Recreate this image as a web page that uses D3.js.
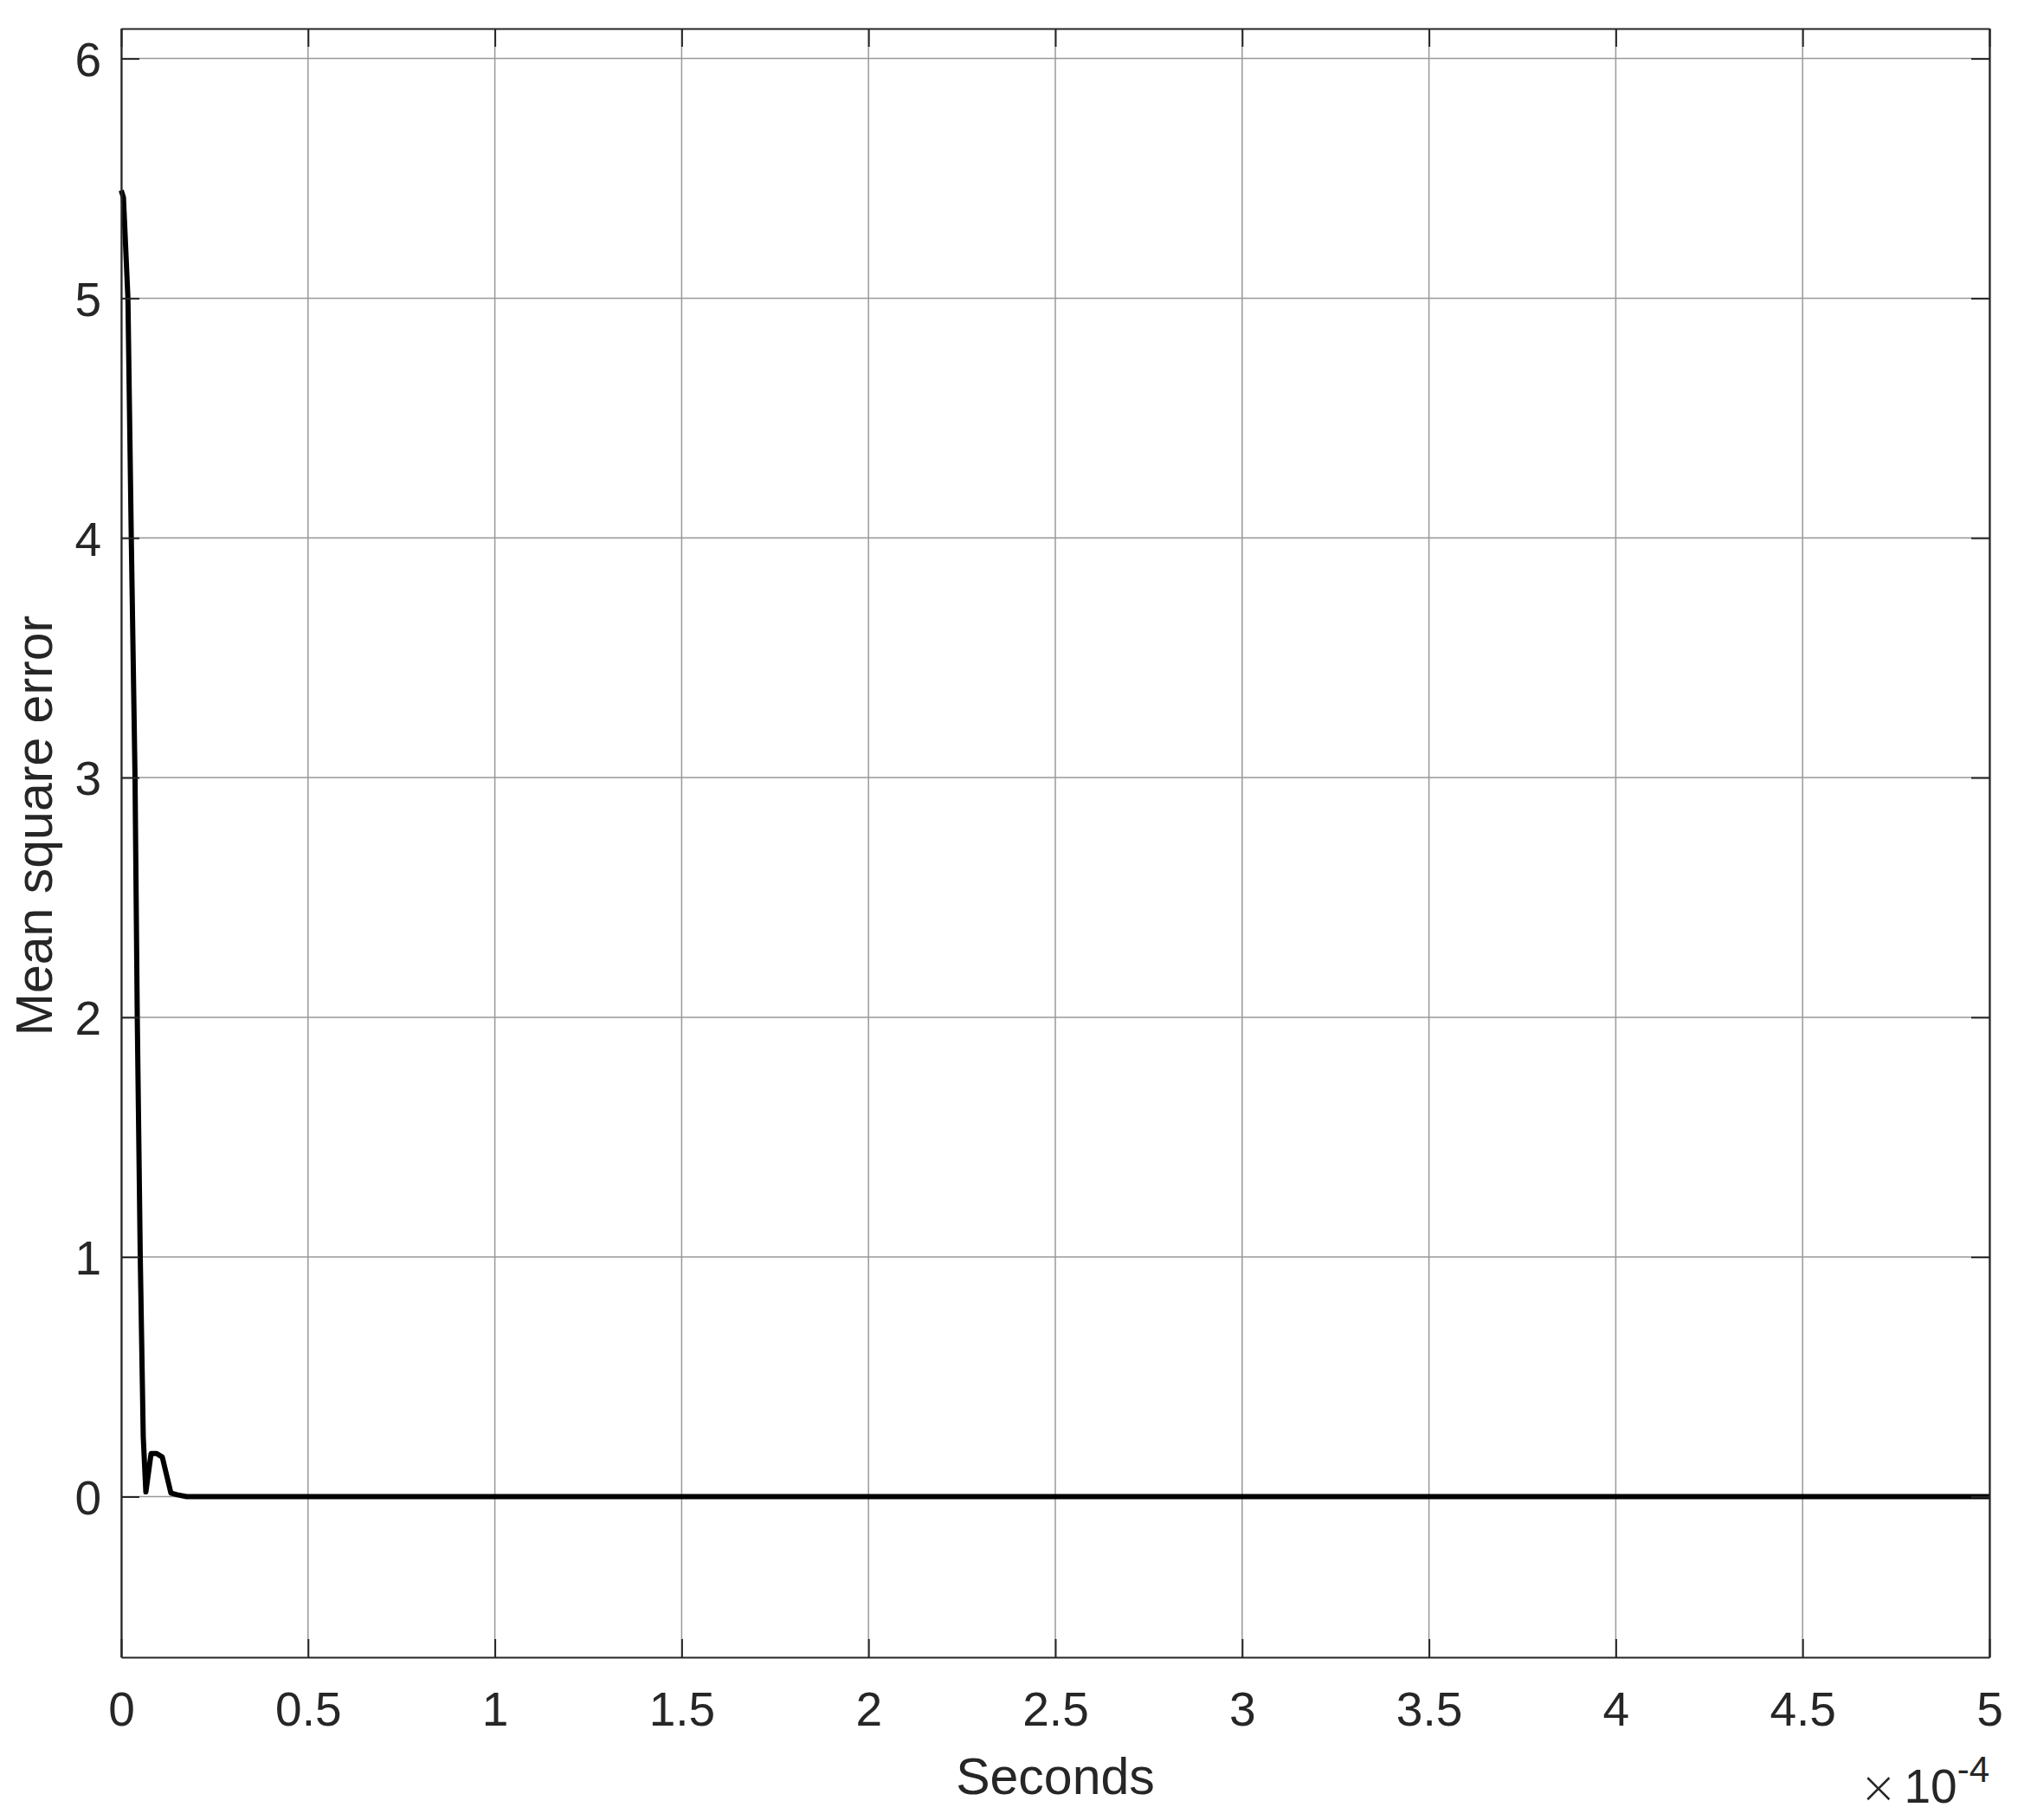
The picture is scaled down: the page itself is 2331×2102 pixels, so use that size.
<!DOCTYPE html>
<html>
<head>
<meta charset="utf-8">
<script src="https://cdn.jsdelivr.net/npm/d3@7"></script>
<style>
  body { margin: 0; background: #fff; }
  svg text { font-family: "Liberation Sans", Arial, sans-serif; fill: #262626; }
</style>
</head>
<body>
<svg id="chart" width="2331" height="2102"></svg>
<script>
// time in microseconds
const timeMicro = [0, 0.6, 1.8, 2.7, 3.7, 4.3, 5.1, 5.9, 6.6, 8.0, 9.5, 11.0, 13.3, 15.0, 17.5, 500];
// mean square error at those times
const mseValues = [5.45, 5.42, 5.0, 4.0, 3.0, 2.0, 1.0, 0.25, 0.02, 0.18, 0.18, 0.165, 0.015, 0.008, 0, 0];

const xTicks = [0, 0.5, 1, 1.5, 2, 2.5, 3, 3.5, 4, 4.5, 5]; // in units of 1e-4 s
const yTicks = [0, 1, 2, 3, 4, 5, 6];

//Layout of the axes
const chart = {};
chart.width = 2331;
chart.height = 2102;
chart.margin = { left: 140, right: 33, top: 33, bottom: 188 };
chart.innerW = chart.width - chart.margin.left - chart.margin.right;
chart.innerH = chart.height - chart.margin.top - chart.margin.bottom;
chart.tick = 21;

const svg = d3.select("#chart");
const g = svg.append("g")
  .attr("transform", "translate(" + chart.margin.left + "," + chart.margin.top + ")");

//Scales
const x = d3.scaleLinear().domain([0, 5]).range([0, chart.innerW]);
const y = d3.scaleLinear().domain([-0.67, 6.125]).range([chart.innerH, 0]);

//Grid lines
g.append("g")
  .selectAll("line")
  .data(xTicks)
  .join("line")
  .attr("x1", (d) => x(d)).attr("x2", (d) => x(d))
  .attr("y1", 0).attr("y2", chart.innerH)
  .attr("stroke", "#999").attr("stroke-width", 1.5);

g.append("g")
  .selectAll("line")
  .data(yTicks)
  .join("line")
  .attr("x1", 0).attr("x2", chart.innerW)
  .attr("y1", (d) => y(d)).attr("y2", (d) => y(d))
  .attr("stroke", "#999").attr("stroke-width", 1.5);

//Data line
const data = timeMicro.map((t, i) => ({ t: t / 100, v: mseValues[i] }));
g.append("path")
  .datum(data)
  .attr("fill", "none")
  .attr("stroke", "#000")
  .attr("stroke-width", 6)
  .attr("stroke-linejoin", "round")
  .attr("d", d3.line().x((d) => x(d.t)).y((d) => y(d.v)));

//Axes with inward ticks on all four sides
const fmt = (d) => d3.format("~g")(d);
const styleAxis = (sel) => {
  sel.select(".domain").attr("stroke", "#262626").attr("stroke-width", 2.2);
  sel.selectAll(".tick line").attr("stroke", "#262626").attr("stroke-width", 2);
};

g.append("g")
  .attr("transform", "translate(0," + chart.innerH + ")")
  .call(d3.axisBottom(x).tickValues(xTicks).tickFormat(fmt).tickSize(-chart.tick).tickSizeOuter(0).tickPadding(0))
  .call(styleAxis)
  .call((a) => a.selectAll(".tick text")
    .attr("y", 79).attr("dy", 0)
    .style("font-size", "55px").attr("fill", "#262626"));

g.append("g")
  .call(d3.axisTop(x).tickValues(xTicks).tickFormat("").tickSize(-chart.tick).tickSizeOuter(0))
  .call(styleAxis);

g.append("g")
  .call(d3.axisLeft(y).tickValues(yTicks).tickFormat(fmt).tickSize(-chart.tick).tickSizeOuter(0).tickPadding(0))
  .call(styleAxis)
  .call((a) => a.selectAll(".tick text")
    .attr("x", -23).attr("dy", "0.36em")
    .style("font-size", "55px").attr("fill", "#262626"));

g.append("g")
  .attr("transform", "translate(" + chart.innerW + ",0)")
  .call(d3.axisRight(y).tickValues(yTicks).tickFormat("").tickSize(-chart.tick).tickSizeOuter(0))
  .call(styleAxis);

//Axis labels
g.append("text")
  .attr("x", chart.innerW / 2)
  .attr("y", chart.innerH + 158)
  .attr("text-anchor", "middle")
  .style("font-size", "59px")
  .text("Seconds");

g.append("text")
  .attr("transform", "translate(" + (60 - chart.margin.left) + "," + (chart.innerH / 2 - 20) + ") rotate(-90)")
  .attr("text-anchor", "middle")
  .style("font-size", "59px")
  .text("Mean square error");

//Exponent marker for the x axis
const expo = g.append("text")
  .attr("x", chart.innerW)
  .attr("y", chart.innerH + 168)
  .attr("text-anchor", "end")
  .style("font-size", "55px");
expo.append("tspan")
  .style("font-family", "'DejaVu Sans', sans-serif")
  .style("font-weight", "200")
  .style("font-size", "52px")
  .text("\u00d7");
expo.append("tspan").attr("dx", 8).text("10");
expo.append("tspan").attr("dy", -24).style("font-size", "42px").text("-4");
</script>
</body>
</html>
